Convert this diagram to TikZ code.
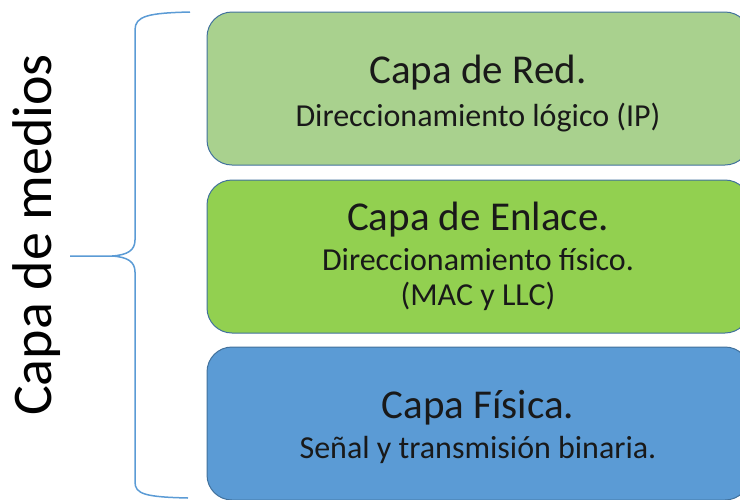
\documentclass[tikz,border=0pt]{standalone}
\usepackage{fontspec}
\setmainfont{Carlito}
\usepackage{xcolor}
\usepackage{tikz}
\definecolor{verdeRed}{HTML}{A9D18E}
\definecolor{verdeEnlace}{HTML}{92D050}
\definecolor{azulFisica}{HTML}{5B9BD5}
\definecolor{bordeCapa}{HTML}{41719C}
\definecolor{azulLlave}{HTML}{5B9BD5}

\begin{document}
\begin{tikzpicture}[x=1pt,y=-1pt,
 capa/.style={draw=bordeCapa,line width=1pt,rounded corners=25pt,minimum width=543pt,minimum height=153pt,inner sep=0pt},
 titulo/.style={anchor=base,text=black!90,font=\fontsize{41}{48}\selectfont},
 detalle/.style={anchor=base,text=black!90,font=\fontsize{32}{38}\selectfont}]
 	\useasboundingbox (0,0) rectangle (740,499);
 	\begin{scope}
 	\clip (0,0) rectangle (740,499);
 	\node[capa,fill=verdeRed] (red) at (478.5,88.5) {};
 	\node[capa,fill=verdeEnlace] (enlace) at (478.5,256.5) {};
 	\node[capa,fill=azulFisica] (fisica) at (478.5,423.5) {};
 	\end{scope}
 		\node[titulo] (redT) at (478,83) {Capa de Red.};
 		\node[detalle] (redD) at (478,126) {Direccionamiento lógico (IP)};
 		\node[titulo] (enlaceT) at (478,230) {Capa de Enlace.};
 		\node[detalle] (enlaceD) at (478,270) {Direccionamiento físico.};
 		\node[detalle] (enlaceM) at (478,305) {(MAC y LLC)};
 		\node[titulo] (fisicaT) at (478,418) {Capa Física.};
 		\node[detalle] (fisicaD) at (478,458) {Señal y transmisión binaria.};
 	\coordinate (llaveA) at (190,12);
 	\coordinate (punta) at (70,256);
 	\coordinate (llaveB) at (188,498);
 	\draw[azulLlave,line width=1.5pt] (llaveA) .. controls (148,13) and (135,16) .. (135,30) -- (135,240) .. controls (135,250) and (128,255) .. (112,256) -- (punta);
 	\draw[azulLlave,line width=1.5pt] (112,256) .. controls (128,257) and (135,262) .. (135,272) -- (135,482) .. controls (135,494) and (145,497) .. (llaveB);
 	\node[rotate=90,anchor=base,font=\fontsize{56}{64}\selectfont] (medios) at (52,235) {Capa de medios};
\end{tikzpicture}
\end{document}
